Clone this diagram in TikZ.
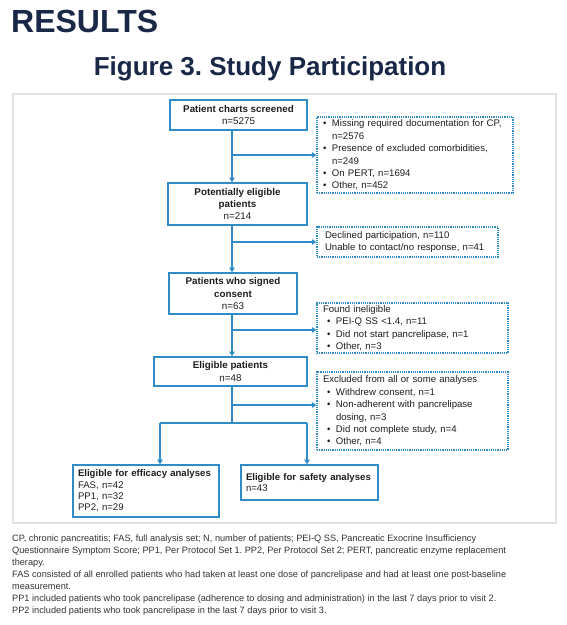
\documentclass[tikz,border=0pt]{standalone}
\usepackage{fontspec}
\setmainfont{Liberation Sans}
\usetikzlibrary{arrows.meta}
\definecolor{fblue}{RGB}{48,140,198}
\definecolor{navy}{RGB}{26,40,72}
\definecolor{txt}{RGB}{30,30,30}
\definecolor{notes}{RGB}{50,50,50}
\definecolor{framec}{RGB}{226,226,226}
\newcommand\bul{\makebox[9pt][l]{•}}
\newcommand\ind{\hspace*{9pt}}
\frenchspacing
\begin{document}
\begin{tikzpicture}[x=1pt,y=-1pt,
  sbox/.style={draw=fblue, line width=1.6pt, inner xsep=6pt, inner ysep=0pt, align=center, text=txt,
    font=\fontsize{9.8}{12.3}\selectfont},
  lbox/.style={sbox, align=left, inner xsep=5pt, font=\fontsize{9.6}{11.3}\selectfont},
  dbox/.style={draw=fblue, line width=1.2pt, dash pattern=on 1.2pt off 1pt, inner xsep=6pt, inner ysep=0pt,
    align=left, text=txt, font=\fontsize{9.6}{12.4}\selectfont},
  arr/.style={draw=fblue, line width=1.9pt, -{Triangle[length=4.5pt,width=5.5pt]}},
  ln/.style={draw=fblue, line width=1.9pt}
]
\useasboundingbox[fill=white] (0,0) rectangle (567,625);

% titles
\node[anchor=base west, inner sep=0pt, text=navy, font=\fontsize{32}{34}\selectfont\bfseries] (res) at (11,32) {RESULTS};
\node[anchor=base, inner sep=0pt, text=navy, font=\fontsize{26}{28}\selectfont\bfseries] (fig) at (270,75) {Figure 3. Study Participation};

% frame
\draw[framec, line width=1.5pt] (13,94) rectangle (556,523);

% main boxes
\node[sbox, minimum width=137pt, minimum height=30pt] (b1) at (238.5,115)
  {\textbf{Patient charts screened}\\n=5275};
\node[sbox, minimum width=139pt, minimum height=42pt] (b2) at (237.5,204)
  {\textbf{Potentially eligible}\\\textbf{patients}\\n=214};
\node[sbox, minimum width=128pt, minimum height=41pt] (b3) at (233,293.5)
  {\textbf{Patients who signed}\\\textbf{consent}\\n=63};
\node[sbox, minimum width=153pt, minimum height=29pt] (b4) at (230.5,371.5)
  {\textbf{Eligible patients}\\n=48};
\node[lbox, text width=136pt, minimum height=52pt] (b5) at (146,491)
  {\textbf{Eligible for efficacy analyses}\\FAS, n=42\\PP1, n=32\\PP2, n=29};
\node[lbox, text width=127pt, minimum height=35pt] (b6) at (309.5,482.5)
  {\textbf{Eligible for safety analyses}\\n=43};

% dashed boxes
\node[dbox, text width=184pt, minimum height=76pt] (d1) at (415,155)
  {\bul Missing required documentation for CP,\\\ind n=2576\\\bul Presence of excluded comorbidities,\\\ind n=249\\\bul On PERT, n=1694\\\bul Other, n=452};
\node[dbox, inner xsep=8pt, text width=165pt, minimum height=30pt] (d2) at (407.5,242)
  {Declined participation, n=110\\Unable to contact/no response, n=41};
\node[dbox, text width=179pt, minimum height=50pt] (d3) at (412.5,328)
  {Found ineligible\\\hspace*{4pt}\bul PEI-Q SS <1.4, n=11\\\hspace*{4pt}\bul Did not start pancrelipase, n=1\\\hspace*{4pt}\bul Other, n=3};
\node[dbox, text width=179pt, minimum height=78pt] (d4) at (412.5,411)
  {Excluded from all or some analyses\\\hspace*{4pt}\bul Withdrew consent, n=1\\\hspace*{4pt}\bul Non-adherent with pancrelipase\\\hspace*{4pt}\ind dosing, n=3\\\hspace*{4pt}\bul Did not complete study, n=4\\\hspace*{4pt}\bul Other, n=4};

% trunk coordinates
\coordinate (j1) at (232,155);
\coordinate (j2) at (232,242);
\coordinate (j3) at (232,330);
\coordinate (j4) at (232,405);
\coordinate (sp) at (232,423);
\coordinate (sl) at (160,423);
\coordinate (sr) at (307,423);

\draw[arr] (b1.south -| j1) -- (b2.north -| j1);
\draw[arr] (b2.south -| j2) -- (b3.north -| j2);
\draw[arr] (b3.south -| j3) -- (b4.north -| j3);
\draw[ln] (b4.south -| sp) -- (sp);
\draw[arr] (j1) -- (j1 -| d1.west);
\draw[arr] (j2) -- (j2 -| d2.west);
\draw[arr] (j3) -- (j3 -| d3.west);
\draw[arr] (j4) -- (j4 -| d4.west);
\draw[ln] (sl) -- (sr);
\draw[arr] (sl) -- (sl |- b5.north);
\draw[arr] (sr) -- (sr |- b6.north);

% footnotes
\node[anchor=north west, inner sep=0pt, align=left, text=notes, font=\fontsize{9.2}{12}\selectfont] (fn) at (12,535)
  {CP, chronic pancreatitis; FAS, full analysis set; N, number of patients; PEI-Q SS, Pancreatic Exocrine Insufficiency\\
   Questionnaire Symptom Score; PP1, Per Protocol Set 1. PP2, Per Protocol Set 2; PERT, pancreatic enzyme replacement\\
   therapy.\\
   FAS consisted of all enrolled patients who had taken at least one dose of pancrelipase and had at least one post-baseline\\
   measurement.\\
   PP1 included patients who took pancrelipase (adherence to dosing and administration) in the last 7 days prior to visit 2.\\
   PP2 included patients who took pancrelipase in the last 7 days prior to visit 3.};
\end{tikzpicture}
\end{document}
